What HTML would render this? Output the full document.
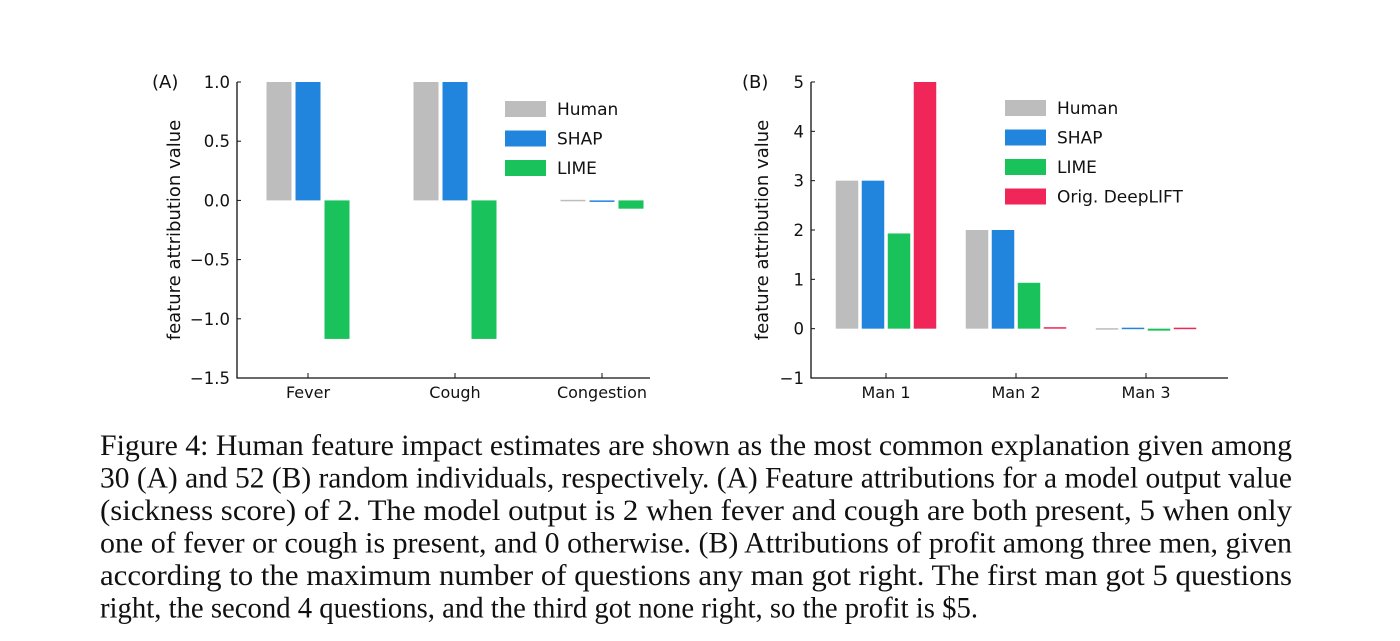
<!DOCTYPE html>
<html><head><meta charset="utf-8"><style>
body{margin:0;background:#fff}
svg{display:block}
.t{font-family:"DejaVu Sans","Liberation Sans",sans-serif;fill:#111}
.cap{font-family:"Liberation Serif",serif;font-size:30px;fill:#111}
</style></head><body>
<svg id="fig" width="1400" height="641" viewBox="0 0 1400 641"></svg>
<script>
const catsA=["Fever","Cough","Congestion"];
const seriesNamesA=["Human","SHAP","LIME"];
const humanA=[1.0,1.0,0.005];
const shapA=[1.0,1.0,-0.01];
const limeA=[-1.17,-1.17,-0.07];
const ticksA=[1.0,0.5,0.0,-0.5,-1.0,-1.5];
const tickLabelsA=["1.0","0.5","0.0","\u22120.5","\u22121.0","\u22121.5"];

const catsB=["Man 1","Man 2","Man 3"];
const seriesNamesB=["Human","SHAP","LIME","Orig. DeepLIFT"];
const humanB=[3.0,2.0,0.01];
const shapB=[3.0,2.0,0.02];
const limeB=[1.93,0.93,-0.04];
const deepB=[5.0,0.03,0.02];
const ticksB=[5,4,3,2,1,0,-1];
const tickLabelsB=["5","4","3","2","1","0","\u22121"];

const colors=["#bdbdbd","#2185de","#19c25b","#ef2657"];
const NS="http://www.w3.org/2000/svg";
const svg=document.getElementById('fig');
function mk(tag,attrs,parent,text){const e=document.createElementNS(NS,tag);for(const k in attrs)e.setAttribute(k,attrs[k]);if(text!==undefined)e.textContent=text;(parent||svg).appendChild(e);return e;}

function chart(o){
  const g=mk('g',{});
  
  
  const y=v=>o.y0+(o.vmax-v)/(o.vmax-o.vmin)*(o.y1-o.y0);
  const x=i=>o.cx0+i*o.step;
  o.series.forEach((vals,s)=>{
    vals.forEach((v,i)=>{
      const bx=x(i)-o.gw/2+s*o.bstep;
      const top=Math.min(y(v),y(0)),h=Math.max(Math.abs(y(v)-y(0)),1.5);
      const r=mk('rect',{x:bx,y:top,width:o.bw,height:h,fill:colors[s]},g);
      
      
    });
  });
  const ax=mk('path',{d:`M${o.ax},${o.y0}V${o.y1}H${o.axR}`,stroke:'#111','stroke-width':1.3,fill:'none'},g);
  
  
  o.ticks.forEach((v,i)=>{
    mk('line',{x1:o.ax,x2:o.ax+4,y1:y(v),y2:y(v),stroke:'#111'},g);
    const t=mk('text',{x:o.ax-7,y:y(v)+6,'text-anchor':'end','font-size':16.5,class:'t'},g,o.tlabels[i]);
    
    
  });
  o.cats.forEach((c,i)=>{
    mk('line',{x1:x(i),x2:x(i),y1:o.y1,y2:o.y1-5,stroke:'#111'},g);
    const t=mk('text',{x:x(i),y:o.y1+20,'text-anchor':'middle','font-size':16,class:'t'},g,c);
    
    
  });
  const yt=mk('text',{x:0,y:0,transform:`translate(${o.ylx},230) rotate(-90)`,'text-anchor':'middle','font-size':18,class:'t'},g,'feature attribution value');
  
  
  const pl=mk('text',{x:o.plx,y:88,'font-size':18,class:'t'},g,o.panel);
  
  
  o.snames.forEach((n,s)=>{
    const ly=o.ly+s*29.5;
    const le=mk('g',{},g);
    
    
    mk('rect',{x:o.lx,y:ly-8,width:41,height:16,fill:colors[s]},le);
    mk('text',{x:o.lx+52,y:ly+6,'font-size':17,class:'t'},le,n);
  });
}
chart({name:'chart-a',panel:'(A)',plx:152,cats:catsA,snames:seriesNamesA,series:[humanA,shapA,limeA],
  ticks:ticksA,tlabels:tickLabelsA,vmax:1.0,vmin:-1.5,y0:82,y1:378,ax:237,axR:650,cx0:308,step:147,
  bw:25,bstep:29,gw:83,ylx:180,lx:505,ly:109});
chart({name:'chart-b',panel:'(B)',plx:742,cats:catsB,snames:seriesNamesB,series:[humanB,shapB,limeB,deepB],
  ticks:ticksB,tlabels:tickLabelsB,vmax:5,vmin:-1,y0:82,y1:378,ax:811,axR:1228,cx0:886,step:130,
  bw:22.5,bstep:26,gw:100.5,ylx:768,lx:1005,ly:108});

const capLines=["Figure 4: Human feature impact estimates are shown as the most common explanation given among",
"30 (A) and 52 (B) random individuals, respectively. (A) Feature attributions for a model output value",
"(sickness score) of 2. The model output is 2 when fever and cough are both present, 5 when only",
"one of fever or cough is present, and 0 otherwise. (B) Attributions of profit among three men, given",
"according to the maximum number of questions any man got right. The first man got 5 questions",
"right, the second 4 questions, and the third got none right, so the profit is $5."];
const cg=mk('g',{});


capLines.forEach((l,i)=>{
  const a={x:100,y:455+i*32.5,class:'cap',lengthAdjust:'spacingAndGlyphs',textLength:(i<5?1192:878)};
  mk('text',a,cg,l);
});
</script>
</body></html>
